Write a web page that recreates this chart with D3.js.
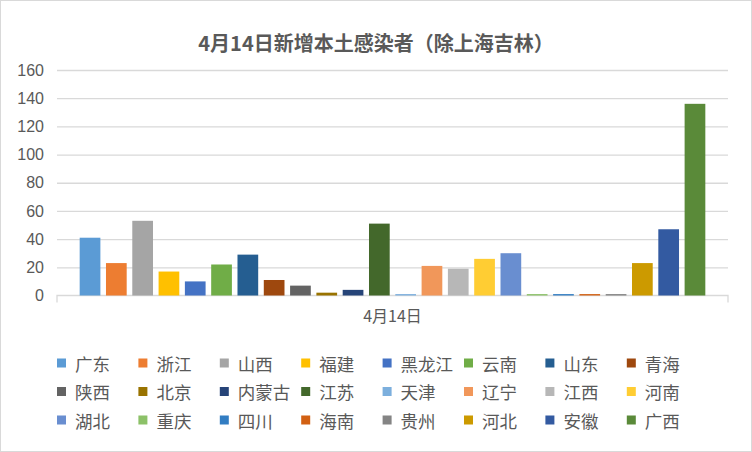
<!DOCTYPE html>
<html>
<head>
<meta charset="utf-8">
<script src="https://cdn.jsdelivr.net/npm/d3@7/dist/d3.min.js"></script>
<style>
  html, body { margin: 0; padding: 0; background: #fff; }
  svg { display: block; }
</style>
</head>
<body>
<svg id="chart" width="752" height="452"></svg>
<script>
const title = "4月14日新增本土感染者（除上海吉林）";
const categories = ["4月14日"];
const provinces = ["广东","浙江","山西","福建","黑龙江","云南","山东","青海",
                   "陕西","北京","内蒙古","江苏","天津","辽宁","江西","河南",
                   "湖北","重庆","四川","海南","贵州","河北","安徽","广西"];
const values = [41, 23, 53, 17, 10, 22, 29, 11,
                7, 2, 4, 51, 1, 21, 19, 26,
                30, 1, 1, 1, 1, 23, 47, 136];
const colors = ["#5B9BD5","#ED7D31","#A5A5A5","#FFC000","#4472C4","#70AD47","#255E91","#9E480E",
                "#636363","#997300","#264478","#43682B","#7CAFDD","#F1975A","#B7B7B7","#FFCD33",
                "#698ED0","#8CC168","#327DC2","#D26012","#848484","#CC9A00","#335AA1","#5A8A39"];
const yTicks = [0, 20, 40, 60, 80, 100, 120, 140, 160];

const svg = d3.select("#chart");
const W = 752, H = 452;
const plot = { left: 57, right: 728, top: 70, bottom: 295.5 };
const numFont = "'Liberation Sans', 'Noto Sans CJK SC', sans-serif";
const cjkFont = "'Noto Sans CJK SC', 'Liberation Sans', sans-serif";
const textColor = "#595959";
const gridColor = "#D9D9D9";

// chart border
svg.append("rect").attr("x", 0.5).attr("y", 0.5).attr("width", W - 1).attr("height", H - 1)
  .attr("fill", "#fff").attr("stroke", gridColor).attr("stroke-width", 1);

// title
svg.append("text").attr("x", 376).attr("y", 42)
  .attr("text-anchor", "middle").attr("dominant-baseline", "central")
  .attr("font-family", cjkFont).attr("font-size", 20).attr("font-weight", "bold")
  .attr("fill", textColor).text(title);

const y = d3.scaleLinear().domain([0, 160]).range([plot.bottom, plot.top]);
const x0 = d3.scaleBand().domain(categories).range([plot.left, plot.right])
  .paddingInner(0).paddingOuter(1.095 / 30.21);
const x1 = d3.scaleBand().domain(provinces).range([0, x0.bandwidth()])
  .paddingInner(0.27 / 1.27).paddingOuter(0);

// gridlines
const yAxis = d3.axisLeft(y).tickValues(yTicks).tickSize(-(plot.right - plot.left)).tickPadding(13);
const gy = svg.append("g").attr("transform", `translate(${plot.left},0)`).call(yAxis);
gy.select(".domain").remove();
gy.selectAll(".tick line").attr("stroke", gridColor).attr("stroke-width", 1.3)
  .filter(d => d === 0).remove();
gy.selectAll(".tick text").attr("fill", textColor).attr("font-family", numFont).attr("font-size", 16);

// category axis
const xAxis = d3.axisBottom(x0).tickSize(0).tickPadding(18);
const gx = svg.append("g").attr("transform", `translate(0,${plot.bottom})`).call(xAxis);
gx.select(".domain").attr("stroke", gridColor).attr("stroke-width", 1.3)
  .attr("d", `M${plot.left},7V0H${plot.right}V7`);
gx.selectAll(".tick text").attr("fill", textColor).attr("font-family", cjkFont).attr("font-size", 16)
  .attr("dy", "0.5em");

// bars (drawn over the axis line)
svg.append("g").selectAll("rect").data(provinces.map((p, i) => ({ p, v: values[i], c: colors[i] })))
  .join("rect")
  .attr("x", d => x0(categories[0]) + x1(d.p))
  .attr("width", x1.bandwidth())
  .attr("y", d => y(d.v))
  .attr("height", d => y(0) - y(d.v))
  .attr("fill", d => d.c);

// legend
const legend = svg.append("g");
const colStep = 81.4, rowStep = 28.5, lx = 57, ly = 363;
provinces.forEach((p, i) => {
  const col = i % 8, row = Math.floor(i / 8);
  const gx0 = lx + col * colStep, gy0 = ly + row * rowStep;
  legend.append("rect").attr("x", gx0).attr("y", gy0 - 4.5).attr("width", 9).attr("height", 9)
    .attr("fill", colors[i]);
  legend.append("text").attr("x", gx0 + 18).attr("y", gy0)
    .attr("dominant-baseline", "central")
    .attr("font-family", cjkFont).attr("font-size", 17.5).attr("fill", textColor).text(p);
});
</script>
</body>
</html>
